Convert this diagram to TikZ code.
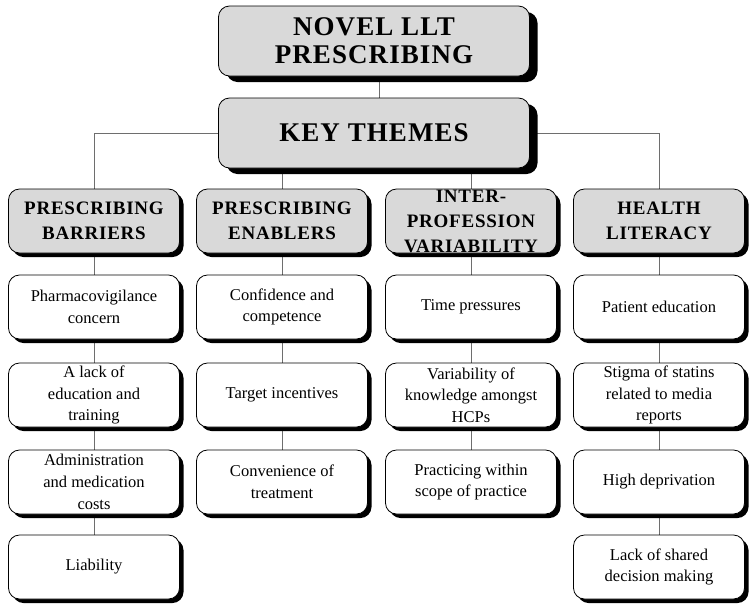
\documentclass[tikz,border=0pt]{standalone}
\usepackage{fontspec}
\setmainfont{Liberation Serif}
\newfontfamily\hdfont{Liberation Serif}[LetterSpace=4]
\usetikzlibrary{shadows,backgrounds}
\definecolor{boxgray}{RGB}{217,217,217}
\definecolor{linegray}{RGB}{110,110,110}
\begin{document}
\begin{tikzpicture}[x=1pt,y=-1pt,
  basebox/.style={draw=black, line width=0.8pt, rounded corners=11pt, align=center, inner sep=0pt},
  bigbox/.style={basebox, fill=boxgray, minimum width=311pt, minimum height=70pt,
    font=\hdfont\bfseries\fontsize{27}{28}\selectfont,
    general shadow={shadow xshift=8pt, shadow yshift=-6pt, fill=black}},
  headbox/.style={basebox, fill=boxgray, minimum width=171pt, minimum height=64pt,
    font=\hdfont\bfseries\fontsize{19}{25}\selectfont,
    general shadow={shadow xshift=4pt, shadow yshift=-4pt, fill=black}},
  itembox/.style={basebox, fill=white, minimum width=171pt, minimum height=64pt,
    font=\fontsize{16.5}{21.7}\selectfont,
    general shadow={shadow xshift=4pt, shadow yshift=-4pt, fill=black}},
  conn/.style={draw=linegray, line width=1pt}
]
\useasboundingbox (0,0) rectangle (756,611);

\node[bigbox] (top) at (374,41) {NOVEL LLT\\PRESCRIBING};
\node[bigbox] (key) at (374,133) {KEY THEMES};

% column headers
\node[headbox] (h1) at (94,221) {PRESCRIBING\\BARRIERS};
\node[headbox] (h2) at (282,221) {PRESCRIBING\\ENABLERS};
\node[headbox] (h3) at (471,221) {INTER-\\PROFESSION\\VARIABILITY};
\node[headbox] (h4) at (659,221) {HEALTH\\LITERACY};

% column 1
\node[itembox] (a1) at (94,307) {Pharmacovigilance\\concern};
\node[itembox] (a2) at (94,395) {A lack of\\education and\\training};
\node[itembox] (a3) at (94,482) {Administration\\and medication\\costs};
\node[itembox] (a4) at (94,567) {Liability};

% column 2
\node[itembox] (b1) at (282,307) {Confidence and\\competence};
\node[itembox] (b2) at (282,395) {Target incentives};
\node[itembox] (b3) at (282,482) {Convenience of\\treatment};

% column 3
\node[itembox] (c1) at (471,307) {Time pressures};
\node[itembox] (c2) at (471,395) {Variability of\\knowledge amongst\\HCPs};
\node[itembox] (c3) at (471,482) {Practicing within\\scope of practice};

% column 4
\node[itembox] (d1) at (659,307) {Patient education};
\node[itembox] (d2) at (659,395) {Stigma of statins\\related to media\\reports};
\node[itembox] (d3) at (659,482) {High deprivation};
\node[itembox] (d4) at (659,567) {Lack of shared\\decision making};

\begin{pgfonlayer}{background}
\draw[conn] ([xshift=5pt]top.south) -- ([xshift=5pt]key.north);
\draw[conn] (key.west) -| (h1.north);
\draw[conn] (key.east) -| (h4.north);
\draw[conn] (key.south -| h2.north) -- (h2.north);
\draw[conn] (key.south -| h3.north) -- (h3.north);
\draw[conn] (h1.south) -- (a1.north);
\draw[conn] (a1.south) -- (a2.north);
\draw[conn] (a2.south) -- (a3.north);
\draw[conn] (a3.south) -- (a4.north);
\draw[conn] (h2.south) -- (b1.north);
\draw[conn] (b1.south) -- (b2.north);
\draw[conn] (b2.south) -- (b3.north);
\draw[conn] (h3.south) -- (c1.north);
\draw[conn] (c1.south) -- (c2.north);
\draw[conn] (c2.south) -- (c3.north);
\draw[conn] (h4.south) -- (d1.north);
\draw[conn] (d1.south) -- (d2.north);
\draw[conn] (d2.south) -- (d3.north);
\draw[conn] (d3.south) -- (d4.north);
\end{pgfonlayer}
\end{tikzpicture}
\end{document}
